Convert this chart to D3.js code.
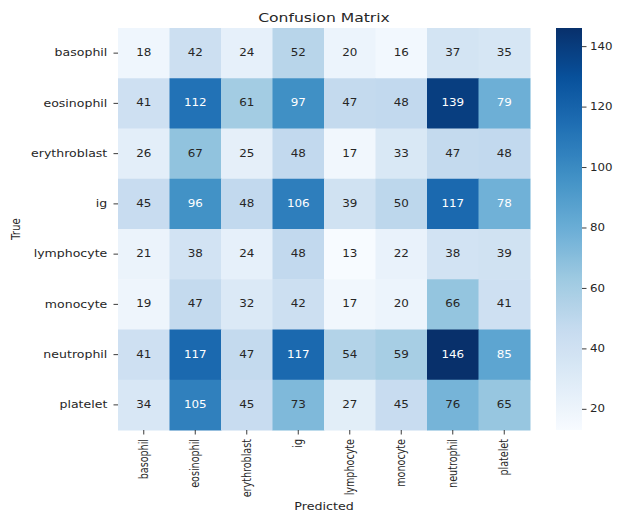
<!DOCTYPE html>
<html>
<head>
<meta charset="utf-8">
<script src="https://cdn.jsdelivr.net/npm/d3@7"></script>
<style>
  html, body { margin: 0; padding: 0; background: #fff; }
  svg { display: block; font-family: "DejaVu Sans", sans-serif; }
</style>
</head>
<body>
<svg id="chart" width="618" height="514"></svg>
<script>
// Cell classes (rows = true label, columns = predicted label)
const classes = ["basophil", "eosinophil", "erythroblast", "ig", "lymphocyte", "monocyte", "neutrophil", "platelet"];

const basophil     = [18, 42, 24, 52, 20, 16, 37, 35];
const eosinophil   = [41, 112, 61, 97, 47, 48, 139, 79];
const erythroblast = [26, 67, 25, 48, 17, 33, 47, 48];
const ig           = [45, 96, 48, 106, 39, 50, 117, 78];
const lymphocyte   = [21, 38, 24, 48, 13, 22, 38, 39];
const monocyte     = [19, 47, 32, 42, 17, 20, 66, 41];
const neutrophil   = [41, 117, 47, 117, 54, 59, 146, 85];
const platelet     = [34, 105, 45, 73, 27, 45, 76, 65];

const rows = [basophil, eosinophil, erythroblast, ig, lymphocyte, monocyte, neutrophil, platelet];
const colorbarTicks = [20, 40, 60, 80, 100, 120, 140];

const cells = [];
rows.forEach((row, i) => row.forEach((v, j) => cells.push({ t: classes[i], p: classes[j], v })));

const svg = d3.select("#chart");
const INK = "#262626";
const SX = 1.23;          // horizontal glyph widening used throughout the figure

// Heatmap frame
const L = 118, R = 530, T = 28, B = 430;

const x = d3.scaleBand().domain(classes).range([L, R]);
const y = d3.scaleBand().domain(classes).range([T, B]);

// Blues colormap (linear segments between the ColorBrewer anchors)
const blues = d3.piecewise(d3.interpolateRgb, ["#f7fbff", "#deebf7", "#c6dbef", "#9ecae1", "#6baed6", "#4292c6", "#2171b5", "#08519c", "#08306b"]);
const vmin = d3.min(cells, d => d.v), vmax = d3.max(cells, d => d.v);
const color = d3.scaleSequential(blues).domain([vmin, vmax]);

function luminance(c) {
  const rgb = d3.rgb(c);
  const f = u => { u /= 255; return u <= 0.03928 ? u / 12.92 : Math.pow((u + 0.055) / 1.055, 2.4); };
  return 0.2126 * f(rgb.r) + 0.7152 * f(rgb.g) + 0.0722 * f(rgb.b);
}

svg.append("g").selectAll("rect").data(cells).join("rect")
  .attr("x", d => x(d.p))
  .attr("y", d => y(d.t))
  .attr("width", x.bandwidth() + 0.5)
  .attr("height", y.bandwidth() + 0.5)
  .attr("fill", d => color(d.v));

svg.append("g").selectAll("text").data(cells).join("text")
  .attr("transform", d => `translate(${x(d.p) + x.bandwidth() / 2},${y(d.t) + y.bandwidth() / 2}) scale(${SX},1)`)
  .attr("text-anchor", "middle")
  .attr("dominant-baseline", "central")
  .attr("font-size", 9.7)
  .attr("fill", d => luminance(color(d.v)) > 0.408 ? INK : "#ffffff")
  .text(d => d.v);

// Row axis
const yAxis = svg.append("g")
  .attr("transform", `translate(${L},0)`)
  .call(d3.axisLeft(y).tickSize(4.5).tickPadding(5));
yAxis.select(".domain").remove();
yAxis.selectAll("line").attr("stroke", INK).attr("stroke-width", 0.9);
yAxis.selectAll("text")
  .attr("font-size", 10.2).attr("fill", INK)
  .attr("font-family", "DejaVu Sans, sans-serif")
  .attr("x", -10.7 / SX)
  .attr("transform", `scale(${SX},1)`);

// Column axis with vertical labels
const xAxis = svg.append("g")
  .attr("transform", `translate(0,${B})`)
  .call(d3.axisBottom(x).tickSize(4.5).tickPadding(3));
xAxis.select(".domain").remove();
xAxis.selectAll("line").attr("stroke", INK).attr("stroke-width", 0.9);
xAxis.selectAll("text")
  .attr("font-size", 9.6).attr("fill", INK)
  .attr("font-family", "DejaVu Sans, sans-serif")
  .attr("text-anchor", "end")
  .attr("dy", null)
  .attr("dominant-baseline", "central")
  .attr("x", 0).attr("y", 0)
  .attr("transform", `translate(0,9) rotate(-90) scale(1,${SX})`);

// Titles
svg.append("text")
  .attr("transform", `translate(${(L + R) / 2},22) scale(${SX},1)`)
  .attr("text-anchor", "middle")
  .attr("font-size", 12.7).attr("fill", INK)
  .text("Confusion Matrix");

svg.append("text")
  .attr("transform", `translate(${(L + R) / 2},510) scale(${SX},1)`)
  .attr("text-anchor", "middle")
  .attr("font-size", 10.3).attr("fill", INK)
  .text("Predicted");

svg.append("text")
  .attr("transform", `translate(20,${(T + B) / 2}) rotate(-90) scale(1,${SX})`)
  .attr("text-anchor", "middle")
  .attr("font-size", 10.3).attr("fill", INK)
  .text("True");

// Colorbar
const CL = 556, CW = 26;
const cb = d3.scaleLinear().domain([vmin, vmax]).range([B, T]);
const defs = svg.append("defs");
const grad = defs.append("linearGradient").attr("id", "cbgrad")
  .attr("x1", 0).attr("y1", 1).attr("x2", 0).attr("y2", 0);
d3.range(0, 1.0001, 0.02).forEach(t => {
  grad.append("stop").attr("offset", t).attr("stop-color", blues(t));
});
svg.append("rect")
  .attr("x", CL).attr("y", T).attr("width", CW).attr("height", B - T)
  .attr("fill", "url(#cbgrad)");

const cAxis = svg.append("g")
  .attr("transform", `translate(${CL + CW},0)`)
  .call(d3.axisRight(cb).tickValues(colorbarTicks).tickSize(4.5).tickPadding(3));
cAxis.select(".domain").remove();
cAxis.selectAll("line").attr("stroke", INK).attr("stroke-width", 0.9);
cAxis.selectAll("text")
  .attr("font-size", 9.6).attr("fill", INK)
  .attr("font-family", "DejaVu Sans, sans-serif")
  .attr("x", 8 / SX)
  .attr("transform", `scale(${SX},1)`);
</script>
</body>
</html>
